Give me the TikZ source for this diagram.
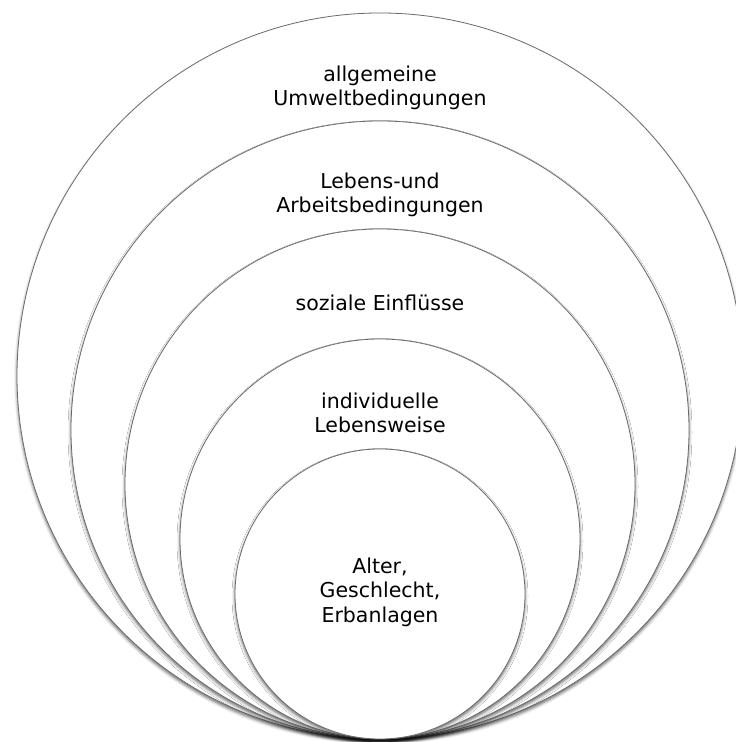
\documentclass[tikz,border=0pt]{standalone}
\usepackage{fontspec}
\setmainfont{DejaVu Sans}
\usepackage{tikz}
\usetikzlibrary{shadows.blur}
\definecolor{ringline}{rgb}{0.42,0.42,0.42}
\begin{document}
\begin{tikzpicture}[x=1pt,y=1pt,
	ring/.style={circle,draw=ringline,line width=0.8pt,fill=white,inner sep=0pt,
		blur shadow={shadow xshift=0pt,shadow yshift=-2.5pt,shadow blur radius=3pt,shadow opacity=60}},
	ringtext/.style={align=center,text=black,font=\fontsize{20.5}{24.5}\selectfont}]
	\useasboundingbox (0,0) rectangle (736,742);
	
	%----------------------------------------------------------------
	\node(env)    [ring,minimum size=726pt] at (380,366) {};
	\node(work)   [ring,minimum size=618pt] at (380,312) {};
	\node(social) [ring,minimum size=510pt] at (380,258) {};
	\node(life)   [ring,minimum size=400pt] at (380,203) {};
	\node(base)   [ring,minimum size=290pt] at (380,148) {};
	
	%----------------------------------------------------------------
	\node(envtext)    [ringtext] at (380,654) {allgemeine\\Umweltbedingungen};
	\node(worktext)   [ringtext] at (380,547) {Lebens-und\\Arbeitsbedingungen};
	\node(socialtext) [ringtext] at (380,439) {soziale Einflüsse};
	\node(lifetext)   [ringtext] at (380,329) {individuelle\\Lebensweise};
	\node(basetext)   [ringtext] at (380,150) {Alter,\\Geschlecht,\\Erbanlagen};
	
\end{tikzpicture}
\end{document}
